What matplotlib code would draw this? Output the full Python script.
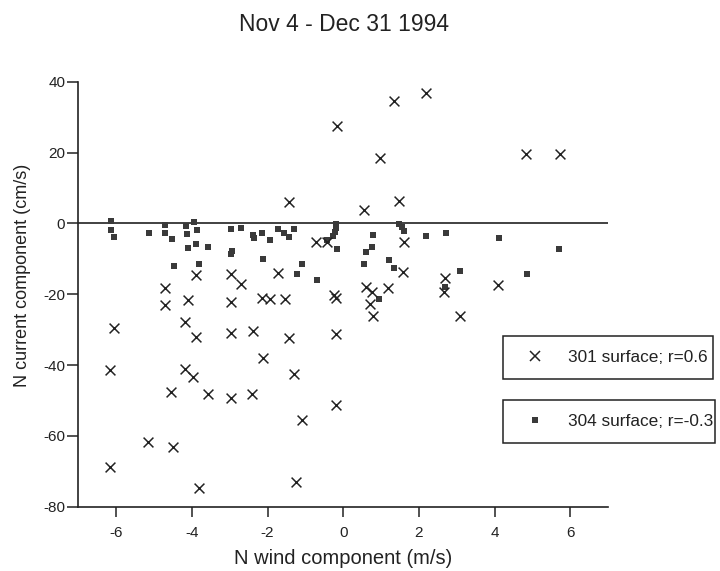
import matplotlib.pyplot as plt
from matplotlib.lines import Line2D

plt.rcParams['font.family'] = ['Liberation Sans', 'DejaVu Sans']
plt.rcParams['axes.unicode_minus'] = False

title = "Nov 4 - Dec 31 1994"
x_label = "N wind component (m/s)"
y_label = "N current component (cm/s)"
label_301 = "301 surface; r=0.6"
label_304 = "304 surface; r=-0.3"

x_ticks = [-6, -4, -2, 0, 2, 4, 6]
y_ticks = [-80, -60, -40, -20, 0, 20, 40]

# 301 surface (crosses)
wind_301 = [-0.16, -1.42, 0.96, 0.55, -0.71, -0.44, 1.34, 2.20, 4.84, 5.72,
            1.47, 1.60, 1.57, 2.70, 2.67, 4.10, 3.09, 0.59, 0.77, 1.18,
            0.71, 0.78, -0.25, -0.18, -6.05, -6.15, -6.15, -5.16, -4.49, -4.71,
            -4.71, -4.54, -3.89, -4.09, -4.18, -3.89, -4.18, -3.96, -3.82, -3.56,
            -2.97, -2.71, -2.97, -2.96, -2.97, -2.39, -2.41, -2.12, -2.15, -1.93,
            -1.71, -1.55, -1.42, -1.31, -1.09, -1.24, -0.20, -0.18]
curr_301 = [27.5, 5.9, 18.5, 3.75, -5.2, -5.2, 34.5, 36.7, 19.7, 19.5,
            6.4, -5.2, -13.7, -15.4, -19.3, -17.3, -26.1, -18.1, -19.4, -18.2,
            -22.7, -26.2, -20.2, -21.0, -29.6, -41.4, -68.8, -61.6, -63.2, -18.3,
            -23.0, -47.5, -14.6, -21.6, -27.9, -32.0, -41.1, -43.4, -74.8, -48.1,
            -14.3, -17.1, -22.1, -31.0, -49.4, -30.3, -48.1, -38.1, -21.0, -21.3,
            -13.9, -21.3, -32.3, -42.6, -55.5, -72.9, -31.2, -51.4]

# 304 surface (squares)
wind_304 = [-6.13, -6.13, -6.05, -5.13, -4.70, -4.70, -4.53, -4.47, -4.15, -4.14,
            -3.94, -3.87, -4.10, -3.90, -3.56, -3.80, -2.96, -2.71, -2.95, -2.97,
            -2.38, -2.37, -2.15, -1.93, -2.12, -1.71, -1.57, -1.42, -1.30, -1.08,
            -1.23, -0.68, -0.18, -0.18, -0.22, -0.28, -0.42, -0.17, 0.79, 0.76,
            0.59, 0.55, 1.20, 1.34, 0.94, 1.48, 1.55, 1.62, 2.18, 2.71,
            4.11, 5.71, 3.10, 4.85, 2.68]
curr_304 = [0.7, -1.9, -3.8, -2.7, -0.5, -2.8, -4.4, -12.1, -0.6, -2.9,
            0.3, -2.0, -7.0, -5.9, -6.7, -11.4, -1.6, -1.4, -7.7, -8.7,
            -3.3, -4.2, -2.6, -4.8, -10.1, -1.5, -2.7, -3.9, -1.7, -11.4,
            -14.2, -16.1, -0.3, -1.3, -2.5, -3.7, -4.6, -7.2, -3.3, -6.6,
            -8.2, -11.5, -10.3, -12.7, -21.4, -0.3, -0.9, -2.2, -3.7, -2.7,
            -4.1, -7.2, -13.5, -14.2, -17.9]

ink = '#222222'

fig = plt.figure(figsize=(7.2, 5.71), dpi=100)
ax = fig.add_axes([0.1088, 0.1126, 0.7357, 0.7443])

ax.axhline(0, color='#333333', lw=1.3, zorder=1)
ax.scatter(wind_301, curr_301, marker='x', s=50, linewidths=1.1, color=ink, zorder=3)
ax.scatter(wind_304, curr_304, marker='s', s=20, color='#3a3a3a', linewidths=0, zorder=2)

ax.set_xlim(-7, 7)
ax.set_ylim(-80, 40)
ax.set_xticks(x_ticks)
ax.set_yticks(y_ticks)
for side in ('top', 'right'):
    ax.spines[side].set_visible(False)
for side in ('left', 'bottom'):
    ax.spines[side].set_linewidth(1.2)
    ax.spines[side].set_color(ink)
ax.tick_params(axis='x', direction='out', length=7, width=1.1, pad=7, labelsize=11, colors=ink)
ax.tick_params(axis='y', direction='out', length=8, width=1.1, pad=1.5, labelsize=11, colors=ink)

ax.set_xlabel(x_label, fontsize=14.5, color=ink, va='center')
ax.xaxis.set_label_coords(0.5, -0.121)
ax.set_ylabel(y_label, fontsize=13, color=ink, va='center')
ax.yaxis.set_label_coords(-0.106, 0.544)

fig.text(0.478, 0.957, title, ha='center', va='center', fontsize=16.5, color=ink)

h301 = Line2D([], [], marker='x', ls='none', color=ink, markersize=7, markeredgewidth=1.1)
h304 = Line2D([], [], marker='s', ls='none', color='#3a3a3a', markersize=4.2, markeredgewidth=0)
leg_kw = dict(loc='center', mode='expand', bbox_transform=fig.transFigure, fontsize=12.4,
              frameon=True, fancybox=False, edgecolor=ink, framealpha=1, borderpad=0.82,
              handlelength=2.1, handletextpad=0.85, borderaxespad=0)
leg1 = fig.legend([h301], [label_301], bbox_to_anchor=(0.699, 0.3345, 0.2917, 0.0788), **leg_kw)
leg2 = fig.legend([h304], [label_304], bbox_to_anchor=(0.699, 0.2224, 0.2945, 0.0788), **leg_kw)
for leg in (leg1, leg2):
    leg.get_frame().set_linewidth(1.1)
    for t in leg.get_texts():
        t.set_color(ink)

fig.savefig('out.png', dpi=100)
